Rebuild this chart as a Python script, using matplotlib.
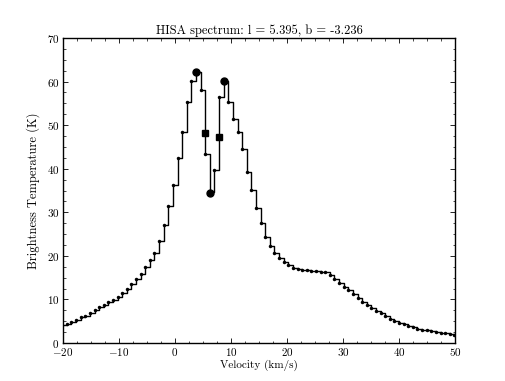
import numpy as np
import matplotlib
matplotlib.use('Agg')
import matplotlib.pyplot as plt
from matplotlib.ticker import MultipleLocator

plt.rcParams['font.family'] = 'serif'
plt.rcParams['font.serif'] = ['cmr10']
plt.rcParams['mathtext.fontset'] = 'cm'
plt.rcParams['axes.formatter.use_mathtext'] = True
plt.rcParams['axes.unicode_minus'] = True

# spectrum channels (km/s), 0.824 km/s spacing
chan_width = 0.824
velocity = 3.75 + chan_width * np.arange(-29, 58)
brightness = [
    4.2, 4.4, 4.9, 5.3, 5.9, 6.3, 6.8, 7.6, 8.2, 8.7,
    9.3, 9.9, 10.5, 11.4, 12.3, 13.5, 14.6, 15.8, 17.5, 19.0,
    20.7, 23.5, 27.1, 31.5, 36.3, 42.4, 48.5, 55.4, 60.2, 62.3,
    58.0, 43.4, 34.7, 39.7, 56.5, 60.2, 55.2, 51.3, 48.5, 44.5,
    39.3, 35.1, 31.0, 27.5, 24.4, 22.3, 20.7, 19.4, 18.7, 17.9,
    17.3, 17.1, 16.8, 16.8, 16.6, 16.5, 16.4, 16.2, 15.6, 14.8,
    13.8, 12.9, 12.2, 11.2, 10.3, 9.5, 8.7, 8.0, 7.3, 6.8,
    6.2, 5.5, 5.0, 4.7, 4.3, 3.9, 3.6, 3.2, 3.0, 3.0,
    2.75, 2.6, 2.2, 2.2, 2.1, 1.8, 1.8,
]

# HISA feature: peaks/minimum (circles) and half-points (squares)
peak_v = [3.75, 6.22, 8.69]
peak_t = [62.3, 34.5, 60.2]
half_v = [5.40, 7.87]
half_t = [48.3, 47.3]

fig = plt.figure(figsize=(5.05, 3.81), dpi=100)
ax = fig.add_axes([0.1248, 0.0997, 0.7762, 0.8006])

ax.plot(velocity, brightness, color='k', lw=1.0, drawstyle='steps-post')
ax.plot(velocity, brightness, 'o', color='k', ms=2.5, mew=0)
ax.plot(peak_v, peak_t, 'o', color='k', ms=5)
ax.plot(half_v, half_t, 's', color='k', ms=4.5)

ax.set_xlim(-20, 50)
ax.set_ylim(0, 70)
ax.xaxis.set_major_locator(MultipleLocator(10))
ax.xaxis.set_minor_locator(MultipleLocator(2.5))
ax.yaxis.set_major_locator(MultipleLocator(10))
ax.yaxis.set_minor_locator(MultipleLocator(2.5))
ax.tick_params(which='both', direction='in', top=True, right=True, labelsize=8)
ax.tick_params(which='major', length=3.5, width=0.6, pad=2.5)
ax.tick_params(which='minor', length=1.8, width=0.5)
for s in ax.spines.values():
    s.set_linewidth(1.0)

ax.set_title('HISA spectrum: l = 5.395, b = -3.236', fontsize=9, pad=3)
ax.set_xlabel('Velocity (km/s)', fontsize=8, labelpad=1)
ax.set_ylabel('Brightness Temperature (K)', fontsize=9, labelpad=5)

fig.savefig('out.png', dpi=100)
